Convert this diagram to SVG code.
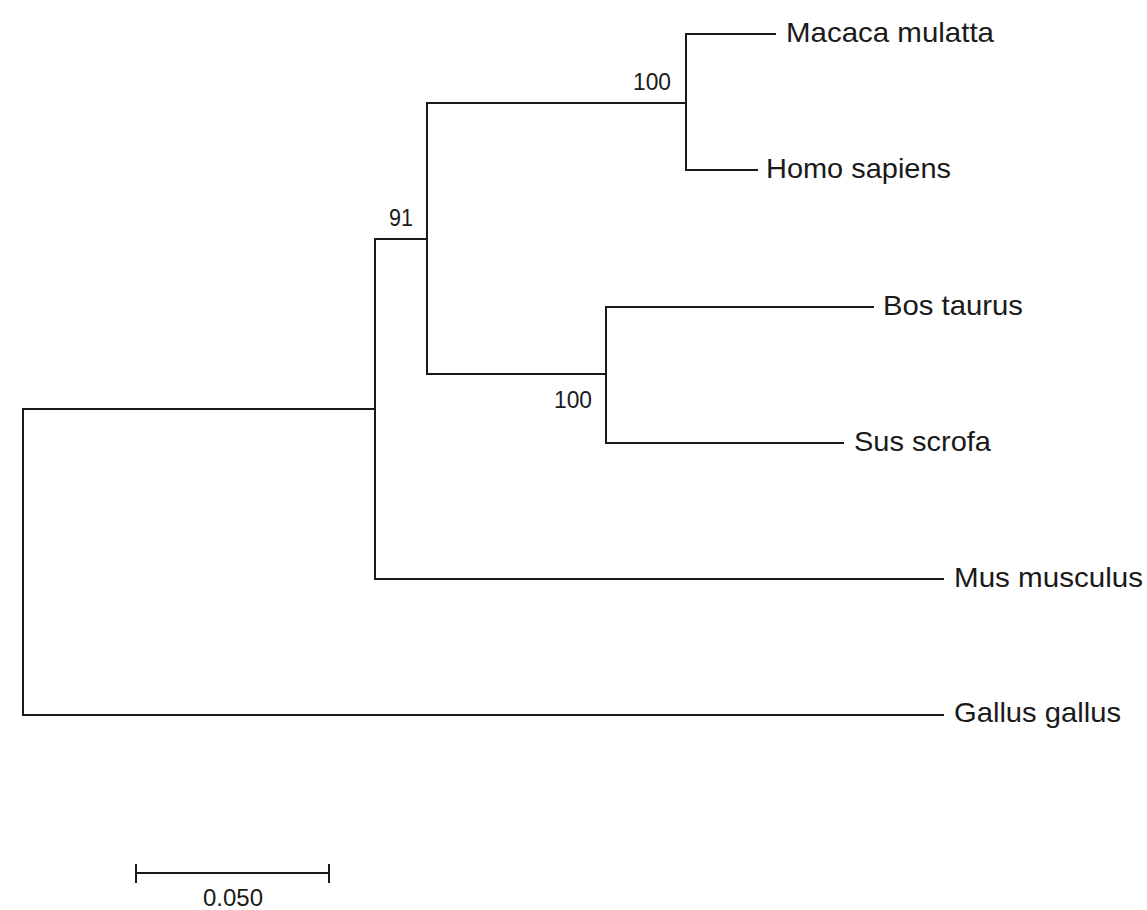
<svg xmlns="http://www.w3.org/2000/svg" width="1147" height="910" viewBox="0 0 1147 910">
<style>
.br{stroke:#1a1a1a;stroke-width:2;fill:none;stroke-linecap:square}
.lbl{font-family:"Liberation Sans",Arial,sans-serif;font-size:28px;fill:#1a1a1a}
.bs{font-family:"Liberation Sans",Arial,sans-serif;font-size:24px;fill:#1a1a1a}
</style>
<rect width="1147" height="910" fill="#ffffff"/>
<g id="connectors">
<path class="br" d="M23,409 V715 M23,409 H375 M23,715 H943"/>
<path class="br" d="M375,239 V579 M375,239 H427 M375,579 H943"/>
<path class="br" d="M427,103 V374 M427,103 H686 M427,374 H606"/>
<path class="br" d="M686,34 V170 M686,34 H775 M686,170 H757"/>
<path class="br" d="M606,307 V443 M606,307 H873 M606,443 H843"/>
</g>
<g id="node-macaca"><text class="lbl" x="786" y="42" textLength="208" lengthAdjust="spacingAndGlyphs">Macaca mulatta</text></g>
<g id="node-homo"><text class="lbl" x="766" y="178" textLength="185" lengthAdjust="spacingAndGlyphs">Homo sapiens</text></g>
<g id="node-bos"><text class="lbl" x="883" y="315" textLength="140" lengthAdjust="spacingAndGlyphs">Bos taurus</text></g>
<g id="node-sus"><text class="lbl" x="854" y="451" textLength="137" lengthAdjust="spacingAndGlyphs">Sus scrofa</text></g>
<g id="node-mus"><text class="lbl" x="954" y="587" textLength="189" lengthAdjust="spacingAndGlyphs">Mus musculus</text></g>
<g id="node-gallus"><text class="lbl" x="954" y="722" textLength="167" lengthAdjust="spacingAndGlyphs">Gallus gallus</text></g>
<g id="bootstrap-primates"><text class="bs" x="633" y="90" textLength="38" lengthAdjust="spacingAndGlyphs">100</text></g>
<g id="bootstrap-91"><text class="bs" x="389" y="226" textLength="24" lengthAdjust="spacingAndGlyphs">91</text></g>
<g id="bootstrap-ungulates"><text class="bs" x="554" y="408" textLength="38" lengthAdjust="spacingAndGlyphs">100</text></g>
<g id="scale-bar">
<path class="br" d="M136,873 H329 M136,865 V882 M329,865 V882"/>
<text class="bs" x="203" y="906" textLength="60" lengthAdjust="spacingAndGlyphs">0.050</text>
</g>
</svg>
